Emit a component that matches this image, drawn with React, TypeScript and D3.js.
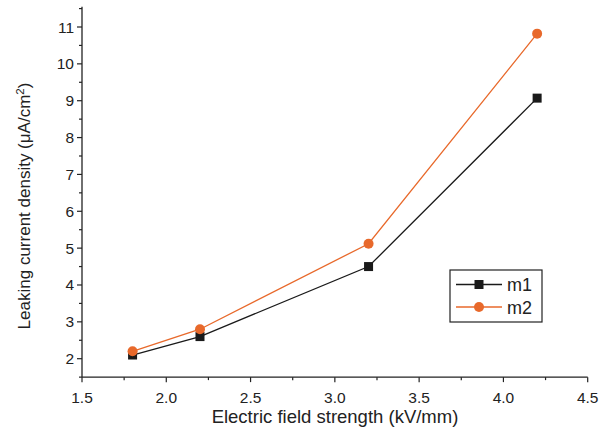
import React, { useEffect, useRef } from "react";
import * as d3 from "d3";

const fields = [1.8, 2.2, 3.2, 4.2];
const m1 = [2.1, 2.6, 4.5, 9.07];
const m2 = [2.2, 2.8, 5.12, 10.82];
const xTicks = [1.5, 2.0, 2.5, 3.0, 3.5, 4.0, 4.5];
const yTicks = [2, 3, 4, 5, 6, 7, 8, 9, 10, 11];
const seriesNames = ["m1", "m2"];

const W = 600;
const H = 433;
const FONT = "'Liberation Sans', Arial, sans-serif";
const ORANGE = "#e8692b";
const BLACK = "#1a1a1a";

export default function App() {
  const svgRef = useRef<SVGSVGElement | null>(null);

  useEffect(() => {
    const svg = d3.select(svgRef.current);
    svg.selectAll("*").remove();

    const x = d3.scaleLinear().domain([1.5, 4.5]).range([82, 587.7]);
    const y = d3.scaleLinear().domain([2, 11]).range([358.7, 27]);
    const y0 = y(1.5);
    const yTop = y(11.55);

    const g = svg.append("g");

    // axes lines
    g.append("line").attr("x1", x(1.5)).attr("x2", x(4.5)).attr("y1", y0).attr("y2", y0)
      .attr("stroke", "#222").attr("stroke-width", 1.3);
    g.append("line").attr("x1", x(1.5)).attr("x2", x(1.5)).attr("y1", y0).attr("y2", yTop)
      .attr("stroke", "#222").attr("stroke-width", 1.3);

    // x ticks
    d3.range(1.5, 4.51, 0.25).forEach((v) => {
      const major = xTicks.some((t) => Math.abs(t - v) < 1e-6);
      g.append("line").attr("x1", x(v)).attr("x2", x(v)).attr("y1", y0).attr("y2", y0 + (major ? 5 : 3))
        .attr("stroke", "#222").attr("stroke-width", 1.2);
    });
    xTicks.forEach((t) => {
      g.append("text").attr("x", x(t)).attr("y", y0 + 26).attr("text-anchor", "middle")
        .attr("font-family", FONT).attr("font-size", 15.5).attr("fill", "#222").text(t.toFixed(1));
    });

    // y ticks
    d3.range(1.5, 11.51, 0.5).forEach((v) => {
      const major = yTicks.some((t) => Math.abs(t - v) < 1e-6);
      g.append("line").attr("x1", x(1.5)).attr("x2", x(1.5) - (major ? 5 : 3)).attr("y1", y(v)).attr("y2", y(v))
        .attr("stroke", "#222").attr("stroke-width", 1.2);
    });
    yTicks.forEach((t) => {
      g.append("text").attr("x", x(1.5) - 8).attr("y", y(t) + 5.5).attr("text-anchor", "end")
        .attr("font-family", FONT).attr("font-size", 15.5).attr("fill", "#222").text(String(t));
    });

    // axis titles
    g.append("text").attr("x", 335).attr("y", 423).attr("text-anchor", "middle")
      .attr("font-family", FONT).attr("font-size", 18.5).attr("fill", "#222")
      .text("Electric field strength (kV/mm)");
    const yl = g.append("text").attr("transform", `translate(30,206) rotate(-90)`)
      .attr("text-anchor", "middle").attr("font-family", FONT).attr("font-size", 17).attr("fill", "#222");
    yl.append("tspan").text("Leaking current density (\u03bcA/cm");
    yl.append("tspan").attr("dy", -6).attr("font-size", 11.5).text("2");
    yl.append("tspan").attr("dy", 6).text(")");

    const line = d3.line<number>().x((_, i) => x(fields[i])).y((d) => y(d));

    // m1
    g.append("path").datum(m1).attr("d", line).attr("fill", "none").attr("stroke", BLACK).attr("stroke-width", 1.3);
    m1.forEach((v, i) => {
      g.append("rect").attr("x", x(fields[i]) - 4.5).attr("y", y(v) - 4.5).attr("width", 9).attr("height", 9)
        .attr("fill", BLACK);
    });
    // m2
    g.append("path").datum(m2).attr("d", line).attr("fill", "none").attr("stroke", ORANGE).attr("stroke-width", 1.3);
    m2.forEach((v, i) => {
      g.append("circle").attr("cx", x(fields[i])).attr("cy", y(v)).attr("r", 5).attr("fill", ORANGE);
    });

    // legend
    const lg = g.append("g");
    lg.append("rect").attr("x", 450).attr("y", 270).attr("width", 92).attr("height", 52)
      .attr("fill", "white").attr("stroke", "#222").attr("stroke-width", 1.2);
    seriesNames.forEach((name, i) => {
      const ly = 284.5 + i * 22.5;
      const col = i === 0 ? BLACK : ORANGE;
      lg.append("line").attr("x1", 456).attr("x2", 502).attr("y1", ly).attr("y2", ly)
        .attr("stroke", col).attr("stroke-width", 1.3);
      if (i === 0) {
        lg.append("rect").attr("x", 479 - 4.5).attr("y", ly - 4.5).attr("width", 9).attr("height", 9).attr("fill", BLACK);
      } else {
        lg.append("circle").attr("cx", 479).attr("cy", ly).attr("r", 5).attr("fill", ORANGE);
      }
      lg.append("text").attr("x", 507).attr("y", ly + 6.5).attr("font-family", FONT).attr("font-size", 18)
        .attr("fill", "#222").text(name);
    });
  }, []);

  return (
    <svg ref={svgRef} width={W} height={H} style={{ position: "absolute", left: 0, top: 0, background: "white" }} />
  );
}
